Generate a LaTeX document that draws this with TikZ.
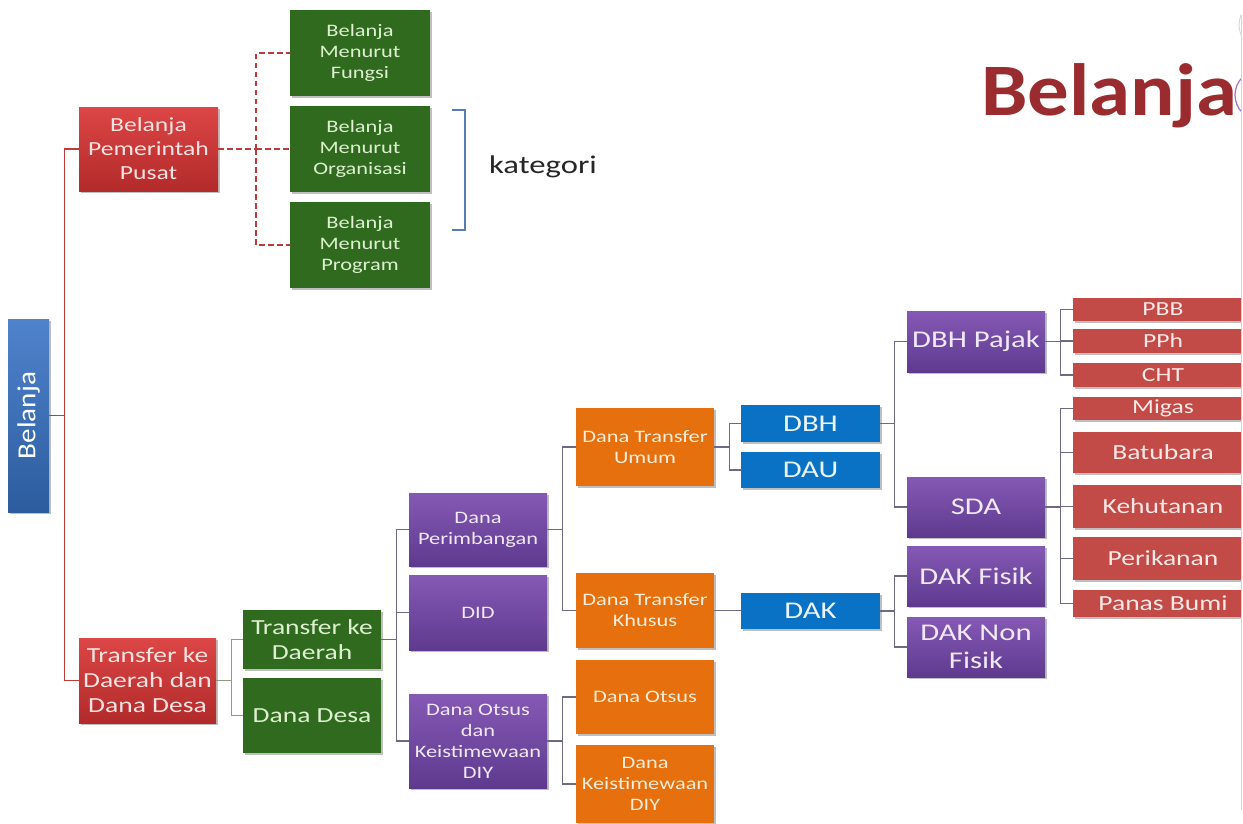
\documentclass[tikz,border=0pt]{standalone}
\usepackage{fontspec}
\setmainfont{Carlito}[FakeStretch=1.28]
\newfontfamily\titlefont{Carlito}[FakeStretch=1.12]
\usetikzlibrary{shadows}
\definecolor{cBlueA}{HTML}{4F83CC}
\definecolor{cBlueB}{HTML}{2C5C9E}
\definecolor{cRedA}{HTML}{DC4646}
\definecolor{cRedB}{HTML}{B22A2A}
\definecolor{cRedR}{HTML}{C24B48}
\definecolor{cGreen}{HTML}{2F6A1F}
\definecolor{cPurA}{HTML}{8559B5}
\definecolor{cPurB}{HTML}{5E3A8E}
\definecolor{cOrange}{HTML}{E6700E}
\definecolor{cBlue}{HTML}{0A72C4}
\definecolor{cTitle}{HTML}{9A2C2F}
\definecolor{cLineRed}{HTML}{C0393B}
\definecolor{cLineGr}{HTML}{8E9E7C}
\definecolor{cLine}{HTML}{6E6A86}
\definecolor{cBracket}{HTML}{5B7BB8}
\definecolor{cCirc}{HTML}{AA6EC8}
\definecolor{cEdge}{HTML}{C8D7E6}
\definecolor{tRed}{HTML}{FCE2E2}
\definecolor{tRedR}{HTML}{FDE8E8}
\definecolor{tGreen}{HTML}{DEF0D0}
\definecolor{tPur}{HTML}{F0E8F8}
\definecolor{tOr}{HTML}{FDECDA}
\definecolor{tBlue}{HTML}{EBF4FC}
\newcommand\mybox[7]{\node[#1, minimum width={#5pt-#3pt}, minimum height={#6pt-#4pt}] (#2) at ({(#3+#5)/2},{(#4+#6)/2}) {#7};}
\begin{document}
\begin{tikzpicture}[x=1pt,y=-1pt,
  base/.style={inner sep=0pt, align=center, drop shadow={shadow xshift=1.5pt,shadow yshift=-1.5pt,opacity=0.25,fill=black}},
  bluev/.style={base, top color=cBlueA, bottom color=cBlueB, text=white, font=\titlefont\fontsize{26}{30}\selectfont},
  redg/.style={base, top color=cRedA, bottom color=cRedB, text=tRed},
  redr/.style={base, fill=cRedR, text=tRedR},
  greenb/.style={base, fill=cGreen, text=tGreen},
  purb/.style={base, top color=cPurA, bottom color=cPurB, text=tPur},
  orb/.style={base, fill=cOrange, text=tOr},
  blb/.style={base, fill=cBlue, text=tBlue, font=\fontsize{24}{28}\selectfont},
  fs/.style={font=\fontsize{17.5}{21}\selectfont},
  fm/.style={font=\fontsize{20}{24}\selectfont},
  fl/.style={font=\fontsize{21.5}{25}\selectfont},
  fx/.style={font=\fontsize{24}{28}\selectfont},
  cred/.style={draw=cLineRed, line width=1.3pt},
  cdash/.style={draw=cLineRed, line width=1.8pt, dash pattern=on 5.5pt off 3.5pt},
  cgr/.style={draw=cLineGr, line width=1.2pt},
  cln/.style={draw=cLine, line width=1.2pt}]
\clip (0,0) rectangle (1243,823);
\fill[white] (0,0) rectangle (1243,823);

% title
\node[font=\titlefont\fontsize{74}{80}\selectfont\bfseries, text=cTitle, anchor=base west, inner sep=0pt] (title) at (981,115) {Belanja};
\draw[draw=cCirc, line width=1.2pt] (1260,95) circle (25);
\draw[draw=black!15, line width=1pt] (1264,25) circle (25);

% boxes
\mybox{bluev}{bel}{8}{319}{49}{512}{\rotatebox{90}{Belanja}}
\mybox{redg,fm}{bpp}{79}{107}{218}{191}{Belanja\\Pemerintah\\Pusat}
\mybox{greenb,fs}{fun}{290}{10}{430}{96}{Belanja\\Menurut\\Fungsi}
\mybox{greenb,fs}{org}{290}{106}{430}{192}{Belanja\\Menurut\\Organisasi}
\mybox{greenb,fs}{prg}{290}{202}{430}{288}{Belanja\\Menurut\\Program}
\node[font=\fontsize{25.5}{30}\selectfont, text=black!85, inner sep=0pt] (kat) at (543,167) {kategori};
\draw[draw=cBracket, line width=1.2pt] (452,110) -- (465,110) -- (465,230) -- (452,230);

\mybox{redg,fl}{ttd}{79}{638}{216}{723}{Transfer ke\\Daerah dan\\Dana Desa}
\mybox{greenb,fl}{tkd}{243}{610}{381}{669}{Transfer ke\\Daerah}
\mybox{greenb,fl}{dds}{243}{678}{381}{753}{Dana Desa}
\mybox{purb,fs}{dp}{409}{493}{547}{566}{Dana\\Perimbangan}
\mybox{purb,fs}{did}{409}{575}{547}{650}{DID}
\mybox{purb,fs}{dok}{409}{694}{547}{788}{Dana Otsus\\dan\\Keistimewaan\\DIY}
\mybox{orb,fs}{dtu}{576}{408}{714}{486}{Dana Transfer\\Umum}
\mybox{orb,fs}{dtk}{576}{573}{714}{648}{Dana Transfer\\Khusus}
\mybox{orb,fs}{dot}{576}{660}{714}{734}{Dana Otsus}
\mybox{orb,fs}{dki}{576}{745}{714}{823}{Dana\\Keistimewaan\\DIY}
\mybox{blb}{dbh}{741}{405}{880}{442}{DBH}
\mybox{blb}{dau}{741}{452}{880}{488}{DAU}
\mybox{blb}{dak}{741}{593}{880}{629}{DAK}
\mybox{purb,fx}{dbhp}{907}{311}{1045}{372}{DBH Pajak}
\mybox{purb,fx}{sda}{907}{477}{1045}{537}{SDA}
\mybox{purb,fx}{dakf}{907}{546}{1045}{606}{DAK Fisik}
\mybox{purb,fx}{dakn}{907}{617}{1045}{677}{DAK Non\\Fisik}
\mybox{redr,fm}{pbb}{1073}{298}{1253}{321}{PBB}
\mybox{redr,fm}{pph}{1073}{329}{1253}{353}{PPh}
\mybox{redr,fm}{cht}{1073}{363}{1253}{387}{CHT}
\mybox{redr,fm}{mig}{1073}{397}{1253}{420}{Migas}
\mybox{redr,fl}{bat}{1073}{432}{1253}{473}{Batubara}
\mybox{redr,fl}{keh}{1073}{485}{1253}{528}{Kehutanan}
\mybox{redr,fl}{per}{1073}{537}{1253}{580}{Perikanan}
\mybox{redr,fl}{pan}{1073}{590}{1253}{617}{Panas Bumi}

% connectors
\coordinate (j1) at ([xshift=15pt]bel.east);
\draw[cred] (bel.east) -- (j1) (j1) |- (bpp.west) (j1) |- (ttd.west);
\coordinate (j2) at ([xshift=38pt]bpp.east);
\draw[cdash] (bpp.east) -- (j2) (j2) |- (fun.west) (j2) |- (org.west) (j2) |- (prg.west);
\coordinate (j3) at ([xshift=15pt]ttd.east);
\draw[cgr] (ttd.east) -- (j3) (j3) |- (tkd.west) (j3) |- (dds.west);
\coordinate (j4) at ([xshift=15pt]tkd.east);
\draw[cln] (tkd.east) -- (j4) (j4) |- (dp.west) (j4) |- (did.west) (j4) |- (dok.west);
\coordinate (j5) at ([xshift=15pt]dp.east);
\draw[cln] (dp.east) -- (j5) (j5) |- (dtu.west) (j5) |- (dtk.west);
\coordinate (j6) at ([xshift=15pt]dok.east);
\draw[cln] (dok.east) -- (j6) (j6) |- (dot.west) (j6) |- (dki.west);
\coordinate (j7) at ([xshift=15pt]dtu.east);
\draw[cln] (dtu.east) -- (j7) (j7) |- (dbh.west) (j7) |- (dau.west);
\draw[cln] (dtk.east) -- (dtk.east -| dak.west);
\coordinate (j8) at ([xshift=14pt]dbh.east);
\draw[cln] (dbh.east) -- (j8) (j8) |- (dbhp.west) (j8) |- (sda.west);
\coordinate (j9) at ([xshift=14pt]dak.east);
\draw[cln] (dak.east) -- (j9) (j9) |- (dakf.west) (j9) |- (dakn.west);
\coordinate (j10) at ([xshift=15pt]dbhp.east);
\draw[cln] (dbhp.east) -- (j10) (j10) |- (pbb.west) (j10) |- (pph.west) (j10) |- (cht.west);
\coordinate (j11) at ([xshift=15pt]sda.east);
\draw[cln] (sda.east) -- (j11) (j11) |- (mig.west) (j11) |- (bat.west) (j11) |- (keh.west) (j11) |- (per.west) (j11) |- (pan.west);

% right edge
\fill[white] (1240.5,0) rectangle (1243,823);
\draw[draw=cEdge, line width=1pt] (1241.8,15) -- (1241.8,810);
\end{tikzpicture}
\end{document}
